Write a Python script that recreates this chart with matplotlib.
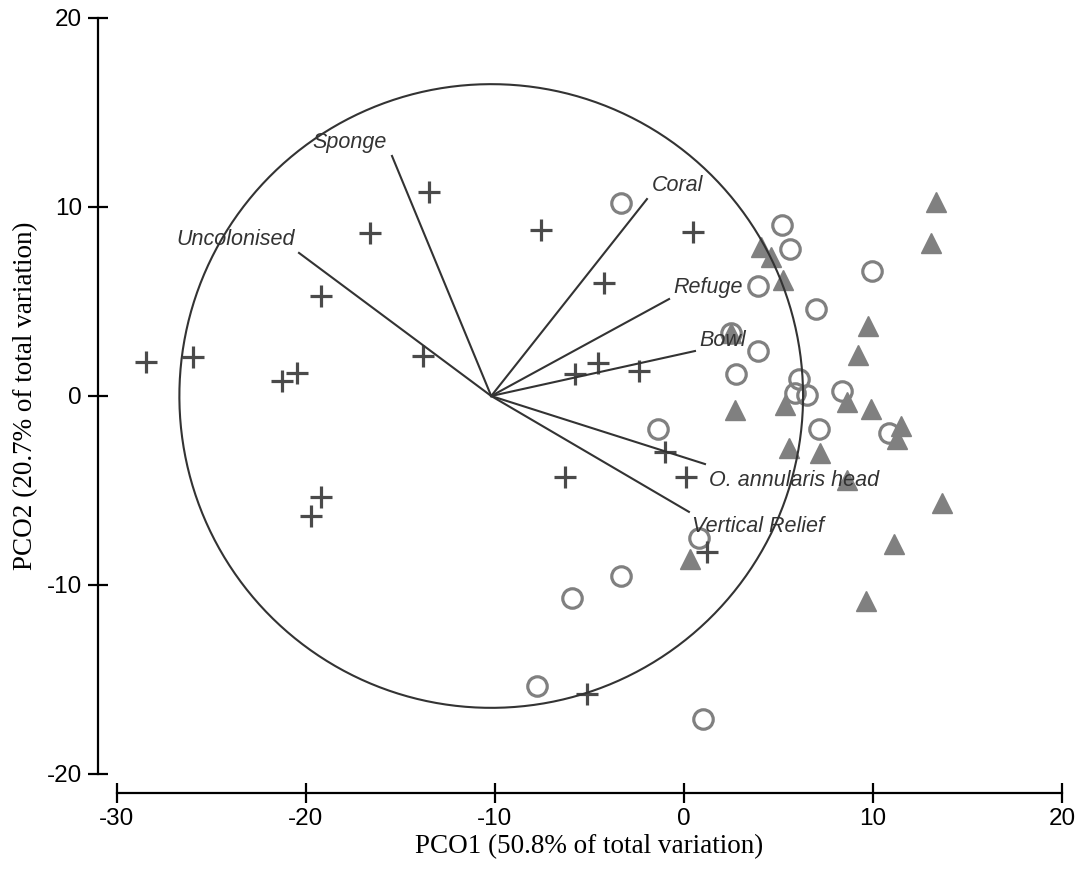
import matplotlib
matplotlib.use("Agg")
import matplotlib.pyplot as plt
import numpy as np

plt.rcParams["axes.unicode_minus"] = False

# ---- data ----
cross_x = [-28.47, -25.98, -21.27, -20.48, -19.21, -16.61, -13.49, -13.81, -19.2, -19.74,
           -7.57, -4.23, 0.48, -5.77, -4.55, -2.38, -1.0, 0.11, -6.3, 1.22, -5.13]
cross_y = [1.8, 2.06, 0.79, 1.22, 5.29, 8.62, 10.79, 2.12, -5.34, -6.35,
           8.78, 5.98, 8.68, 1.16, 1.75, 1.32, -2.96, -4.28, -4.28, -8.25, -15.77]

circ_x = [-3.33, 5.19, 5.61, 3.92, 9.95, 6.98, 2.49, 3.92, 2.75, 6.08, 5.87, 6.5, 8.36,
          7.14, 10.85, -1.38, 0.79, -3.33, -5.93, -7.78, 1.0]
circ_y = [10.2, 9.05, 7.78, 5.82, 6.61, 4.6, 3.33, 2.38, 1.16, 0.9, 0.16, 0.05, 0.26,
          -1.75, -1.96, -1.75, -7.51, -9.52, -10.69, -15.34, -17.09]

tri_x = [4.07, 4.6, 5.24, 2.7, 5.34, 13.33, 13.07, 9.74, 9.21, 8.62, 9.89, 11.48, 11.27,
         5.56, 7.2, 8.62, 13.65, 11.11, 9.63, 0.32, 2.49]
tri_y = [7.88, 7.35, 6.14, -0.74, -0.48, 10.26, 8.1, 3.7, 2.17, -0.32, -0.69, -1.59, -2.28,
         -2.75, -3.0, -4.44, -5.66, -7.83, -10.85, -8.62, 3.33]

vec_names = ["Sponge", "Uncolonised", "Coral", "Refuge", "Bowl",
             "O. annularis head", "Vertical Relief"]
vec_x = [-15.45, -20.37, -1.96, -0.79, 0.58, 1.11, 0.26]
vec_y = [12.7, 7.57, 10.42, 5.13, 2.38, -3.6, -6.13]

origin = (-10.2, 0.0)
circle_radius = 16.5

x_ticks = [-30, -20, -10, 0, 10, 20]
y_ticks = [-20, -10, 0, 10, 20]

# ---- styling (label placement offsets in points) ----
label_style = {
    "Sponge": dict(off=(-3.6, 9.4), ha="right"),
    "Uncolonised": dict(off=(-2.9, 9.4), ha="right"),
    "Coral": dict(off=(3.6, 10), ha="left"),
    "Refuge": dict(off=(2.9, 8.6), ha="left"),
    "Bowl": dict(off=(2.9, 7.9), ha="left"),
    "O. annularis head": dict(off=(2.9, -11.5), ha="left"),
    "Vertical Relief": dict(off=(2.2, -10.8), ha="left"),
}

W, H, DPI = 1084, 869, 100
fig = plt.figure(figsize=(W / DPI, H / DPI), dpi=DPI)
ax = fig.add_axes([117 / W, 1 - 774 / H, (1062 - 117) / W, (774 - 18) / H])
ax.set_xlim(-30, 20)
ax.set_ylim(-20, 20)

ax.plot(tri_x, tri_y, linestyle="none", marker="^", markersize=14.5,
        markerfacecolor="#808080", markeredgecolor="#808080", zorder=2)
ax.plot(circ_x, circ_y, linestyle="none", marker="o", markersize=14,
        markerfacecolor="none", markeredgecolor="#808080", markeredgewidth=2.3, zorder=3)
ax.plot(cross_x, cross_y, linestyle="none", marker="+", markersize=16,
        markeredgecolor="#4a4a4a", markeredgewidth=2.3, zorder=4)

th = np.linspace(0, 2 * np.pi, 400)
ax.plot(origin[0] + circle_radius * np.cos(th), origin[1] + circle_radius * np.sin(th),
        color="#333333", lw=1.5, zorder=5)

for name, vx, vy in zip(vec_names, vec_x, vec_y):
    ax.plot([origin[0], vx], [origin[1], vy], color="#333333", lw=1.5, zorder=5)
    st = label_style[name]
    ax.annotate(name, (vx, vy), xytext=st["off"], textcoords="offset points",
                ha=st["ha"], va="center", fontsize=15.5, fontstyle="italic",
                family="Liberation Sans", color="#333333", zorder=6)

for s in ["top", "right"]:
    ax.spines[s].set_visible(False)
ax.spines["left"].set_position(("outward", 13.7))
ax.spines["bottom"].set_position(("outward", 13.7))
for s in ["left", "bottom"]:
    ax.spines[s].set_linewidth(1.6)
    ax.spines[s].set_color("black")
ax.spines["left"].set_bounds(-20, 20)
ax.spines["bottom"].set_bounds(-30, 20)

ax.set_xticks(x_ticks)
ax.set_yticks(y_ticks)
ax.tick_params(direction="inout", length=15, width=1.6, colors="black",
               labelsize=17.5)
ax.tick_params(axis="x", pad=3)
ax.tick_params(axis="y", pad=4)
for lab in ax.get_xticklabels() + ax.get_yticklabels():
    lab.set_family("Liberation Sans")

ax.set_xlabel("PCO1 (50.8% of total variation)", family="Liberation Serif",
              fontsize=19.5, labelpad=3)
ax.set_ylabel("PCO2 (20.7% of total variation)", family="Liberation Serif",
              fontsize=19.5, labelpad=6)

fig.savefig("out.png", dpi=DPI)
